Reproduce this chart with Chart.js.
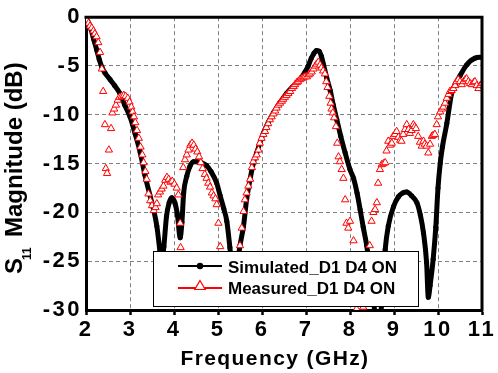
<!DOCTYPE html>
<html>
<head>
<meta charset="utf-8">
<script src="https://cdn.jsdelivr.net/npm/chart.js@4.4.1/dist/chart.umd.min.js"></script>
<style>
html, body { margin: 0; padding: 0; background: #fff; }
</style>
</head>
<body>
<canvas id="c" width="498" height="373"></canvas>
<script>
// simulated S11 (GHz, dB)
const simFreq = [2.00, 2.05, 2.10, 2.17, 2.24, 2.30, 2.36, 2.43, 2.55, 2.65, 2.77, 2.88, 3.00, 3.12, 3.23,
  3.34, 3.45, 3.53, 3.61, 3.68, 3.72, 3.77, 3.83, 3.89, 3.95, 4.02, 4.08, 4.14, 4.18, 4.22, 4.29, 4.36,
  4.44, 4.52, 4.62, 4.74, 4.84, 4.97, 5.05, 5.13, 5.20, 5.27, 5.37, 5.45, 5.50, 5.58, 5.65, 5.73, 5.80,
  5.88, 6.03, 6.15, 6.26, 6.40, 6.56, 6.70, 6.86, 6.98, 7.05, 7.12, 7.18, 7.24, 7.30, 7.35, 7.40, 7.47,
  7.55, 7.62, 7.70, 7.79, 7.89, 8.00, 8.08, 8.16, 8.23, 8.30, 8.38, 8.50, 8.60, 8.72, 8.80, 8.87, 8.99,
  9.10, 9.20, 9.29, 9.40, 9.52, 9.60, 9.67, 9.74, 9.78, 9.82, 9.89, 9.95, 10.00, 10.05, 10.10, 10.20,
  10.31, 10.40, 10.50, 10.65, 10.84, 11.00];
const simDb = [-0.1, -0.5, -1.0, -2.2, -3.3, -4.3, -5.1, -5.7, -6.4, -7.0, -7.8, -9.0, -10.2, -12.0, -13.8,
  -16.2, -18.2, -19.6, -21.4, -24.0, -25.5, -23.5, -20.4, -19.0, -18.5, -19.0, -20.3, -22.6, -21.0, -18.0, -16.3, -15.3,
  -14.8, -14.8, -14.9, -15.2, -15.8, -17.0, -18.3, -19.6, -20.9, -23.6, -28.0, -25.0, -23.4, -21.4, -18.7, -16.6, -15.0,
  -13.9, -11.9, -10.7, -9.8, -8.8, -7.8, -7.1, -6.4, -5.6, -5.0, -4.2, -3.7, -3.4, -3.5, -4.0, -4.9, -6.2,
  -7.5, -9.0, -10.5, -12.2, -13.9, -15.6, -16.5, -18.0, -19.7, -21.5, -23.4, -27.5, -31.0, -29.5, -23.8, -21.4, -19.4,
  -18.4, -18.0, -17.9, -18.3, -19.0, -20.3, -22.1, -25.1, -28.7, -27.5, -24.8, -21.5, -17.5, -15.0, -13.3, -10.9,
  -7.8, -6.8, -6.0, -4.9, -4.2, -4.1];

// measured S11 (GHz, dB)
const measFreq = [2.02, 2.06, 2.09, 2.13, 2.17, 2.20, 2.24, 2.28, 2.32, 2.36, 2.39, 2.43, 2.45, 2.48, 2.52,
  2.57, 2.60, 2.64, 2.68, 2.72, 2.76, 2.81, 2.86, 2.90, 2.95, 2.99, 3.03, 3.06, 3.09, 3.12, 3.16, 3.20,
  3.24, 3.28, 3.31, 3.35, 3.38, 3.42, 3.46, 3.50, 3.54, 3.58, 3.61, 3.64, 3.68, 3.72, 3.76, 3.80, 3.84,
  3.88, 3.92, 3.96, 4.01, 4.06, 4.10, 4.14, 4.15, 4.21, 4.25, 4.29, 4.33, 4.37, 4.41, 4.45, 4.49, 4.53,
  4.57, 4.61, 4.65, 4.70, 4.74, 4.78, 4.82, 4.86, 4.90, 4.94, 4.97, 5.01, 5.05, 5.10, 5.28, 5.33, 5.50,
  5.54, 5.58, 5.61, 5.65, 5.69, 5.73, 5.77, 5.80, 5.84, 5.88, 5.92, 5.95, 5.99, 6.03, 6.07, 6.10, 6.14,
  6.18, 6.22, 6.26, 6.30, 6.33, 6.37, 6.41, 6.45, 6.48, 6.52, 6.56, 6.60, 6.64, 6.68, 6.72, 6.75, 6.79,
  6.82, 6.86, 6.90, 6.94, 6.98, 7.02, 7.06, 7.09, 7.13, 7.17, 7.21, 7.24, 7.28, 7.32, 7.35, 7.39, 7.43,
  7.46, 7.49, 7.53, 7.56, 7.58, 7.61, 7.64, 7.68, 7.71, 7.74, 7.77, 7.81, 7.85, 7.89, 7.92, 7.96, 8.00,
  8.08, 8.15, 8.30, 8.45, 8.49, 8.53, 8.57, 8.61, 8.64, 8.68, 8.72, 8.76, 8.80, 8.83, 8.87, 8.91, 8.95,
  8.98, 9.02, 9.06, 9.10, 9.14, 9.17, 9.21, 9.25, 9.29, 9.33, 9.36, 9.40, 9.44, 9.47, 9.50, 9.55, 9.59,
  9.63, 9.67, 9.70, 9.74, 9.78, 9.82, 9.86, 9.89, 9.93, 9.97, 10.00, 10.05, 10.09, 10.12, 10.16, 10.20,
  10.24, 10.27, 10.31, 10.35, 10.39, 10.42, 10.46, 10.50, 10.54, 10.58, 10.62, 10.65, 10.69, 10.73,
  10.77, 10.81, 10.84, 10.88, 10.92, 10.96, 11.00];
const measDb = [-0.3, -0.6, -0.9, -1.1, -1.4, -1.7, -2.0, -2.6, -3.6, -5.3, -7.6, -11.0, -15.5, -16.0, -13.6,
  -11.4, -9.8, -9.4, -9.0, -8.5, -8.2, -8.1, -8.0, -8.1, -8.3, -8.7, -9.2, -9.7, -10.2, -10.8, -11.6, -12.4,
  -13.3, -14.1, -14.9, -15.8, -16.6, -18.1, -18.8, -19.3, -19.8, -19.5, -19.1, -18.2, -17.9, -17.6, -17.3, -16.7, -16.4,
  -16.6, -16.9, -16.8, -17.1, -17.5, -18.2, -21.1, -23.6, -15.4, -14.6, -14.1, -13.6, -13.1, -12.9, -13.1, -13.5, -13.8,
  -14.3, -14.9, -15.5, -16.1, -16.5, -17.0, -17.4, -18.0, -18.3, -18.6, -19.2, -21.1, -23.5, -26.0, -29.4, -29.4, -23.4,
  -21.6, -19.9, -18.7, -18.0, -17.3, -16.6, -15.4, -14.8, -14.4, -14.1, -13.6, -12.9, -12.4, -12.0, -11.7, -11.3, -10.9,
  -10.5, -10.2, -9.9, -9.6, -9.3, -9.0, -8.8, -8.6, -8.4, -8.2, -8.0, -7.8, -7.6, -7.3, -7.1, -6.9, -6.7,
  -6.6, -6.4, -6.3, -6.2, -6.1, -6.1, -5.9, -5.8, -5.6, -5.3, -5.0, -4.8, -4.6, -4.9, -5.2, -5.5, -5.8,
  -6.6, -7.2, -8.1, -8.8, -9.4, -9.8, -10.3, -11.2, -12.9, -14.3, -14.8, -15.6, -16.5, -18.7, -21.1, -21.6, -20.9,
  -22.9, -29.9, -29.7, -23.4, -20.9, -20.0, -19.7, -19.0, -17.0, -15.6, -15.1, -15.0, -14.9, -13.7, -12.7, -13.1, -12.9,
  -12.2, -12.0, -11.7, -12.3, -12.6, -12.7, -12.0, -11.5, -11.0, -11.5, -11.9, -11.6, -11.0, -11.2, -11.4, -12.2, -12.8,
  -13.2, -12.7, -13.0, -13.2, -13.9, -13.0, -12.2, -12.1, -12.0, -11.0, -10.2, -9.7, -9.4, -9.2, -8.8, -8.3,
  -7.9, -7.6, -7.5, -7.3, -7.0, -6.6, -6.4, -6.6, -6.9, -6.6, -6.4, -6.3, -6.6, -6.8,
  -6.9, -6.7, -6.6, -7.0, -7.3, -7.0, -6.8];

const seriesNames = ['Simulated_D1 D4 ON', 'Measured_D1 D4 ON'];
const xTicks = [2, 3, 4, 5, 6, 7, 8, 9, 10, 11];
const yTicks = [0, -5, -10, -15, -20, -25, -30];

const toPts = (xs, ys) => xs.map((x, i) => ({ x: x, y: ys[i] }));
const tickFont = { family: 'Liberation Sans', weight: 'bold', size: 22 };

// spacing for the wide-looking tick labels, reset after the axes
const spacing = {
  id: 'spacing',
  beforeDraw(chart) { chart.ctx.letterSpacing = '2.5px'; },
  beforeDatasetsDraw(chart) { chart.ctx.letterSpacing = '0px'; }
};

// top and right edges of the box
const frame = {
  id: 'frame',
  afterDatasetsDraw(chart) {
    const { ctx, chartArea: a } = chart;
    ctx.save();
    ctx.strokeStyle = '#000';
    ctx.lineWidth = 3;
    ctx.beginPath();
    ctx.moveTo(a.left - 1.5, a.top);
    ctx.lineTo(a.right, a.top);
    ctx.lineTo(a.right, a.bottom + 1.5);
    ctx.stroke();
    ctx.restore();
  }
};

// boxed legend inside the plot
const boxLegend = {
  id: 'boxLegend',
  afterDatasetsDraw(chart) {
    const ctx = chart.ctx;
    const sim = chart.data.datasets[1], meas = chart.data.datasets[0];
    ctx.save();
    ctx.fillStyle = '#fff';
    ctx.fillRect(153, 251, 265, 55);
    ctx.strokeStyle = '#000';
    ctx.lineWidth = 1;
    ctx.strokeRect(153.5, 251.5, 265, 55);

    ctx.lineWidth = 2;
    ctx.strokeStyle = sim.borderColor;
    ctx.beginPath(); ctx.moveTo(178, 266); ctx.lineTo(222, 266); ctx.stroke();
    ctx.fillStyle = sim.borderColor;
    ctx.beginPath(); ctx.arc(200, 266, 3.2, 0, Math.PI * 2); ctx.fill();

    ctx.strokeStyle = meas.borderColor;
    ctx.beginPath(); ctx.moveTo(178, 288); ctx.lineTo(222, 288); ctx.stroke();
    const r = 6, cx = 200, cy = 286.5;
    ctx.beginPath();
    ctx.moveTo(cx, cy - r);
    ctx.lineTo(cx + r * 0.866, cy + r / 2);
    ctx.lineTo(cx - r * 0.866, cy + r / 2);
    ctx.closePath();
    ctx.fillStyle = '#fff'; ctx.fill();
    ctx.lineWidth = 1.2; ctx.stroke();

    ctx.fillStyle = '#000';
    ctx.font = 'bold 17px "Liberation Sans", Arial, sans-serif';
    ctx.textAlign = 'left';
    ctx.textBaseline = 'alphabetic';
    ctx.fillText(seriesNames[0], 228, 273);
    ctx.fillText(seriesNames[1], 228, 294);
    ctx.restore();
  }
};

// axis titles, y one with subscript
const titles = {
  id: 'titles',
  afterDraw(chart) {
    const ctx = chart.ctx;
    ctx.save();
    ctx.fillStyle = '#000';
    ctx.textBaseline = 'alphabetic';
    ctx.letterSpacing = '1.4px';
    ctx.font = 'bold 21px "Liberation Sans", Arial, sans-serif';
    ctx.textAlign = 'center';
    ctx.fillText('Frequency (GHz)', 275, 365);

    ctx.letterSpacing = '0px';
    ctx.textAlign = 'left';
    ctx.translate(22, 274);
    ctx.rotate(-Math.PI / 2);
    ctx.font = 'bold 24px "Liberation Sans", Arial, sans-serif';
    ctx.fillText('S', 0, 0);
    const sw = ctx.measureText('S').width;
    ctx.font = 'bold 12px "Liberation Sans", Arial, sans-serif';
    ctx.fillText('11', sw - 2, 9);
    ctx.font = 'bold 24px "Liberation Sans", Arial, sans-serif';
    ctx.fillText('Magnitude (dB)', 37, 0);
    ctx.restore();
  }
};

const canvas = document.getElementById('c');
new Chart(canvas, {
  type: 'scatter',
  data: {
    datasets: [{
      label: seriesNames[1],
      data: toPts(measFreq, measDb),
      borderColor: '#ff0000',
      backgroundColor: '#ffffff',
      pointStyle: 'triangle',
      pointRadius: 4.2,
      pointBorderWidth: 1,
      showLine: false
    }, {
      label: seriesNames[0],
      data: toPts(simFreq, simDb),
      borderColor: '#000000',
      backgroundColor: '#000000',
      borderWidth: 5,
      pointRadius: 2.5,
      pointBorderWidth: 0,
      showLine: true,
      cubicInterpolationMode: 'monotone'
    }]
  },
  options: {
    responsive: false,
    animation: false,
    devicePixelRatio: 1,
    layout: { padding: { top: 17, right: 16, left: 0, bottom: 0 } },
    plugins: { legend: { display: false }, tooltip: { enabled: false } },
    scales: {
      x: {
        type: 'linear', min: 2, max: 11,
        afterBuildTicks: s => { s.ticks = xTicks.map(v => ({ value: v })); },
        afterFit: s => { s.height = 63; },
        ticks: { color: '#000', font: tickFont, padding: 2, maxRotation: 0 },
        grid: { color: '#808080', lineWidth: 1, tickColor: '#000', tickWidth: 2.5, tickLength: 5 },
        border: { color: '#000', width: 3, dash: [4, 3] }
      },
      y: {
        type: 'linear', min: -30, max: 0,
        afterBuildTicks: s => { s.ticks = yTicks.map(v => ({ value: v })); },
        afterFit: s => { s.width = 86; },
        ticks: { color: '#000', font: tickFont, padding: 4 },
        grid: { color: '#808080', lineWidth: 1, drawTicks: false },
        border: { color: '#000', width: 3, dash: [4, 3] }
      }
    }
  },
  plugins: [spacing, frame, boxLegend, titles]
});
</script>
</body>
</html>
